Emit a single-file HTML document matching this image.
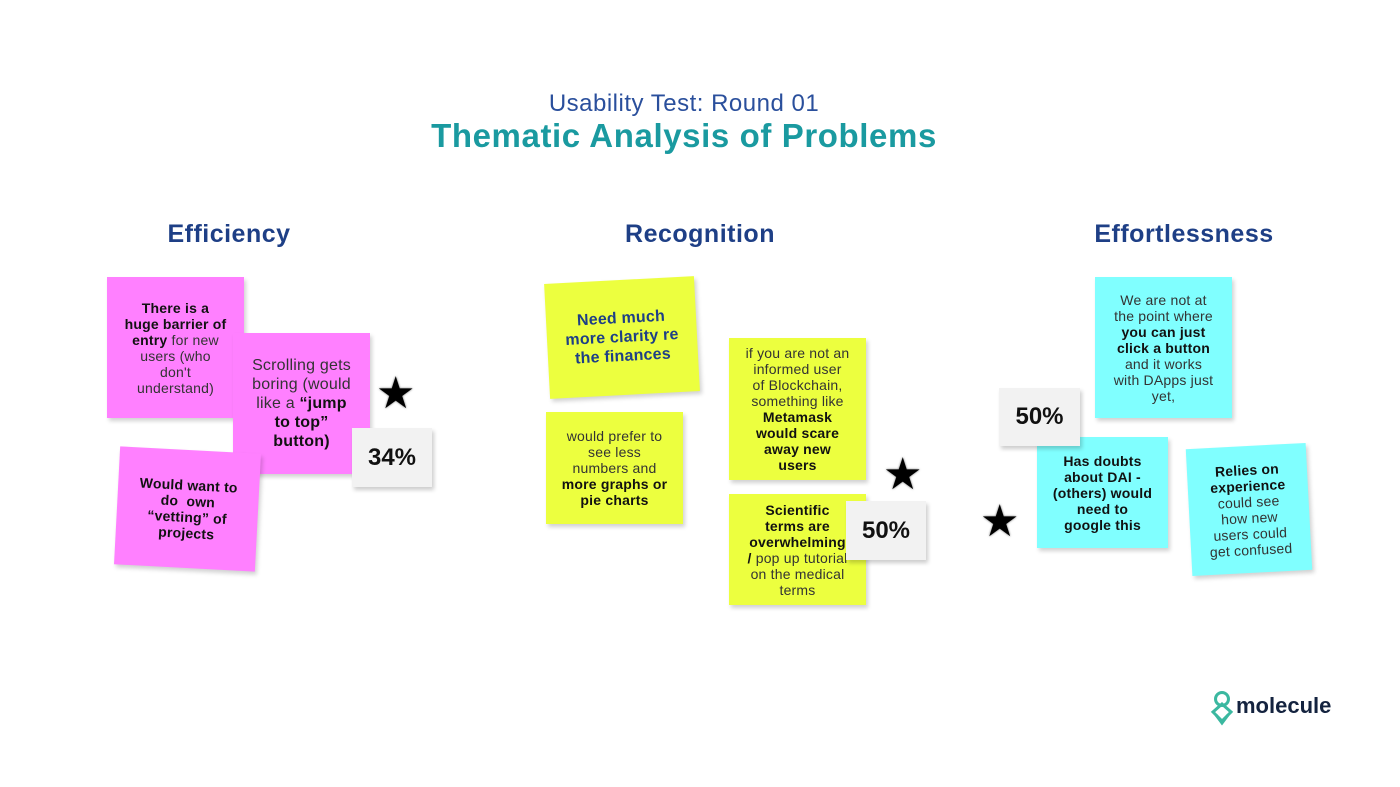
<!DOCTYPE html>
<html><head><meta charset="utf-8"><style>
body{margin:0;width:1400px;height:787px;background:#fff;position:relative;overflow:hidden;font-family:"Liberation Sans",sans-serif;}
.a{position:absolute;}
.n{position:absolute;display:flex;align-items:center;justify-content:center;text-align:center;box-sizing:border-box;font-size:14px;line-height:16px;color:#333;box-shadow:2px 3px 4px rgba(0,0,0,0.18);padding:0 2px;letter-spacing:0.2px;white-space:nowrap;}
.n b{color:#111;}
.p{background:#ff80ff;}.y{background:#ecff3f;}.c{background:#80ffff;}
.pct{position:absolute;background:#f2f2f2;box-shadow:2px 3px 4px rgba(0,0,0,0.2);display:flex;align-items:center;justify-content:center;font-weight:bold;font-size:24px;color:#111;}
.st{position:absolute;font-size:44px;line-height:44px;color:#000;text-shadow:0 0 2px #666;}
h2{position:absolute;margin:0;font-size:25px;color:#1e3f86;font-weight:bold;text-align:center;width:300px;letter-spacing:0.5px;}
</style></head><body>
<div class="a" style="left:0;width:1368px;top:90px;text-align:center;font-size:24px;color:#2a4f9c;letter-spacing:0.5px;">Usability Test: Round 01</div>
<div class="a" style="left:0;width:1368px;top:117px;text-align:center;font-size:33px;font-weight:bold;color:#1a9aa0;letter-spacing:0.6px;">Thematic Analysis of Problems</div>
<h2 style="left:79px;top:220px;">Efficiency</h2>
<h2 style="left:550px;top:220px;">Recognition</h2>
<h2 style="left:1034px;top:220px;">Effortlessness</h2>

<div class="n p" style="left:107px;top:277px;width:137px;height:141px;"><div><b>There is a<br>huge barrier of<br>entry</b> for new<br>users (who<br>don't<br>understand)</div></div>
<div class="n p" style="left:233px;top:333px;width:137px;height:141px;font-size:16px;line-height:19px;"><div>Scrolling gets<br>boring (would<br>like a <b>“jump<br>to top”<br>button)</b></div></div>
<div class="n p" style="left:117px;top:450px;width:141px;height:118px;transform:rotate(3deg);"><div><b>Would want to<br>do&nbsp; own<br>“vetting” of<br>projects</b></div></div>
<div class="pct" style="left:352px;top:428px;width:80px;height:59px;">34%</div>
<div class="st" style="left:376px;top:372px;">★</div>

<div class="n y" style="left:547px;top:280px;width:150px;height:115px;transform:rotate(-3deg);font-size:16px;line-height:19px;"><div><b style="color:#1e3f86">Need much<br>more clarity re<br>the finances</b></div></div>
<div class="n y" style="left:546px;top:412px;width:137px;height:112px;"><div>would prefer to<br>see less<br>numbers and<br><b>more graphs or<br>pie charts</b></div></div>
<div class="n y" style="left:729px;top:338px;width:137px;height:142px;"><div>if you are not an<br>informed user<br>of Blockchain,<br>something like<br><b>Metamask<br>would scare<br>away new<br>users</b></div></div>
<div class="n y" style="left:729px;top:494px;width:137px;height:111px;"><div><b>Scientific<br>terms are<br>overwhelming<br>/</b> pop up tutorial<br>on the medical<br>terms</div></div>
<div class="pct" style="left:846px;top:501px;width:80px;height:59px;">50%</div>
<div class="st" style="left:883px;top:453px;">★</div>

<div class="n c" style="left:1095px;top:277px;width:137px;height:141px;"><div>We are not at<br>the point where<br><b>you can just<br>click a button</b><br>and it works<br>with DApps just<br>yet,</div></div>
<div class="n c" style="left:1037px;top:437px;width:131px;height:111px;"><div><b>Has doubts<br>about DAI -<br>(others) would<br>need to<br>google this</b></div></div>
<div class="n c" style="left:1189px;top:446px;width:120px;height:127px;transform:rotate(-3deg);"><div><b>Relies on<br>experience</b><br>could see<br>how new<br>users could<br>get confused</div></div>
<div class="pct" style="left:999px;top:388px;width:81px;height:58px;">50%</div>
<div class="st" style="left:980px;top:500px;">★</div>

<svg class="a" style="left:1208px;top:690px;" width="28" height="36" viewBox="0 0 28 36"><g fill="none" stroke="#3bb8a0" stroke-width="3"><circle cx="14" cy="9" r="6.5"/><path d="M14 14 L5 22 L14 31 L23 22 Z"/><path d="M8 25 L14 33 L20 25"/></g></svg>
<div class="a" style="left:1236px;top:693px;font-size:22px;font-weight:bold;color:#14233f;">molecule</div>
</body></html>
